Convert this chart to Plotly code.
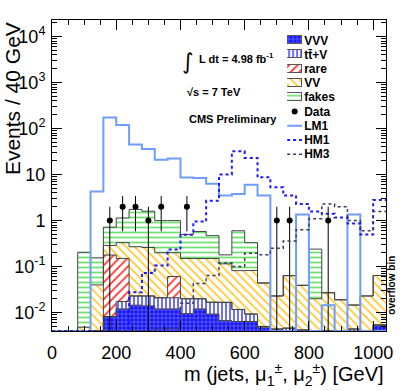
import numpy as np
import plotly.graph_objects as go

# 40 GeV bins from 0 to 1040 (last bin = overflow)
bin_edges = np.arange(0, 1041, 40)
bin_centers = bin_edges[:-1] + 20

# stacked backgrounds, bottom to top
vvv = [0, 0, 0, 0, 0.0082, 0.012, 0.0145, 0.014, 0.012, 0.012, 0.0095, 0.012, 0.0093,
       0.0067, 0.0064, 0.0064, 0.0048, 0.0042, 0, 0, 0, 0, 0, 0, 0.0035, 0.0052]
ttv = [0, 0, 0, 0, 0, 0.0054, 0.0085, 0.009, 0.009, 0.009, 0.0105, 0.008, 0.0075,
       0.010, 0.0053, 0.0029, 0.0002, 0.0002, 0.0046, 0.0042, 0.0035, 0.003, 0.003,
       0.0044, 0, 0.0002]
rare = [0, 0, 0, 0, 0.17, 0.133, 0, 0, 0, 0.04, 0, 0, 0,
        0, 0, 0, 0, 0, 0, 0, 0, 0, 0, 0, 0, 0]
vv = [0, 0, 0.0048, 0.04, 0.11, 0.18, 0.247, 0.237, 0.179, 0.139, 0.13, 0.13, 0.133,
      0.098, 0.07, 0.073, 0.039, 0.0186, 0.059, 0.035, 0.0165, 0.024, 0.016, 0.0102,
      0.0195, 0.0586]
fakes = [0, 0, 0.2, 0.115, 0.43, 0.81, 1.48, 1.34, 0.8, 0.8, 0.35, 0.43, 0.32,
         0.065, 0.52, 0.25, 0, 0, 0, 0, 0.22, 0, 0, 0, 0, 0]

data = [0, 0, 0, 0, 1, 2, 2, 1, 2, 0, 2, 0, 0, 0, 0, 0, 0, 1, 1, 0, 0, 1, 0, 0, 0, 0]

# signal points
lm1 = [0, 0, 0, 4.3, 174, 120, 45, 36, 21, 22.5, 8.6, 8.4, 6.3, 3.5, 3.8, 6.0, 3.5,
       0, 0, 1.35, 0, 0.0145, 0, 1.35, 0, 0]
hm1 = [0, 0, 0, 0, 0, 0, 0.0276, 0.073, 0.105, 0.234, 0.49, 0.95, 2.7, 10, 32, 23,
       8.7, 5.3, 3.5, 2.3, 1.57, 1.4, 1.16, 0.86, 0.5, 2.8]
hm3 = [0, 0, 0, 0, 0, 0, 0, 0, 0.0045, 0.0045, 0.016, 0.043, 0.064, 0.12, 0.1, 0.195,
       0.18, 0.25, 0.36, 0.63, 1.1, 2.3, 2.0, 1.0, 0.6, 1.57]

y_tickvals = [1e-2, 1e-1, 1, 10, 1e2, 1e3, 1e4]
y_ticktext = ["10<sup>-2</sup>", "10<sup>-1</sup>", "1", "10",
              "10<sup>2</sup>", "10<sup>3</sup>", "10<sup>4</sup>"]
x_tickvals = [0, 200, 400, 600, 800, 1000]

legend_names = ["VVV", "tt\u0304+V", "rare", "VV", "fakes", "Data", "LM1", "HM1", "HM3"]

FONT = "Liberation Sans, Arial, Helvetica, sans-serif"
LOG_MIN, LOG_MAX = -2.4, 4.36
floor = 10 ** LOG_MIN


def step(vals):
    v = np.maximum(np.asarray(vals, dtype=float), floor)
    return np.append(v, v[-1])


fig = go.Figure()

patterns = {
    "VVV": dict(shape="+", bgcolor="#1414f5", fgcolor="#7a7aff", size=4, solidity=0.3),
    "tt\u0304+V": dict(shape="|", bgcolor="white", fgcolor="#3030ff", size=4, solidity=0.35),
    "rare": dict(shape="/", bgcolor="white", fgcolor="#ff3030", size=6, solidity=0.3),
    "VV": dict(shape="\\", bgcolor="white", fgcolor="#ffc830", size=6, solidity=0.3),
    "fakes": dict(shape="-", bgcolor="white", fgcolor="#70e070", size=5, solidity=0.35),
}
backgrounds = [("VVV", vvv), ("tt\u0304+V", ttv), ("rare", rare), ("VV", vv), ("fakes", fakes)]

for name, vals in backgrounds:
    pat = patterns[name]
    fig.add_trace(go.Bar(
        x=bin_centers, y=vals, width=40, name=name, showlegend=False,
        marker=dict(color=pat["bgcolor"], line=dict(width=0),
                    pattern=dict(fillmode="replace", **pat)),
        hoverinfo="skip",
    ))

# stack outlines (step style)
cum = np.zeros(len(bin_centers))
for name, vals in backgrounds:
    cum = cum + np.asarray(vals)
    fig.add_trace(go.Scatter(
        x=bin_edges, y=step(cum), mode="lines", line_shape="hv",
        line=dict(color="#444444", width=1), showlegend=False, hoverinfo="skip",
    ))

# data with sqrt(N) errors
data_arr = np.asarray(data, dtype=float)
has = data_arr > 0
err = np.sqrt(data_arr[has])
err_lo = np.minimum(err, data_arr[has] * 0.9999)
fig.add_trace(go.Scatter(
    x=bin_centers[has], y=data_arr[has], mode="markers", name="Data", showlegend=False,
    marker=dict(color="black", size=6),
    error_y=dict(type="data", symmetric=False, array=err, arrayminus=err_lo,
                 color="black", thickness=1, width=0),
))

line_styles = {
    "LM1": dict(color="#6f9cff", width=2),
    "HM1": dict(color="#1a1aff", width=2, dash="dot"),
    "HM3": dict(color="#3a3a5a", width=1.5, dash="dot"),
}
signals = [("LM1", lm1), ("HM1", hm1), ("HM3", hm3)]
for name, vals in signals:
    fig.add_trace(go.Scatter(
        x=bin_edges, y=step(vals), mode="lines", line_shape="hv",
        name=name, line=line_styles[name], showlegend=False,
    ))

# legend drawn on a small categorical subplot
for name in legend_names:
    if name in patterns:
        pat = patterns[name]
        fig.add_trace(go.Bar(
            x=[1], y=[name], orientation="h", width=0.55, xaxis="x2", yaxis="y2",
            marker=dict(color=pat["bgcolor"], line=dict(width=1, color="#555555"),
                        pattern=dict(fillmode="replace", **pat)),
            showlegend=False, hoverinfo="skip",
        ))
    elif name == "Data":
        fig.add_trace(go.Scatter(
            x=[0.5], y=[name], mode="markers", xaxis="x2", yaxis="y2",
            marker=dict(color="black", size=6), showlegend=False, hoverinfo="skip",
        ))
    else:
        fig.add_trace(go.Scatter(
            x=[0, 1], y=[name, name], mode="lines", xaxis="x2", yaxis="y2",
            line=line_styles[name], showlegend=False, hoverinfo="skip",
        ))

annos = [
    dict(x=0.406, y=0.867, text="\u222b", size=22, family="DejaVu Sans", xanchor="center"),
    dict(x=0.434, y=0.877, text="<b>L dt = 4.98 fb<sup>-1</sup></b>", size=11, xanchor="left"),
    dict(x=0.398, y=0.768, text="<b>\u221as = 7 TeV</b>", size=11, xanchor="left"),
    dict(x=0.404, y=0.683, text="<b>CMS Preliminary</b>", size=11, xanchor="left"),
    dict(x=-0.118, y=1.0, text="Events / 40 GeV", textangle=-90, size=21,
         xanchor="center", yanchor="top"),
    dict(x=1.0, y=-0.14, text="m (jets, \u03bc<sub>1</sub><sup>\u00b1</sup>, "
         "\u03bc<sub>2</sub><sup>\u00b1</sup>) [GeV]", size=20, xanchor="right"),
    dict(x=1.016, y=0.147, text="<b>overflow bin</b>", textangle=-90, size=10,
         xanchor="center"),
]
for a in annos:
    fig.add_annotation(
        xref="paper", yref="paper", showarrow=False, x=a["x"], y=a["y"], text=a["text"],
        textangle=a.get("textangle", 0), xanchor=a.get("xanchor", "center"),
        yanchor=a.get("yanchor", "middle"),
        font=dict(family=a.get("family", FONT), size=a["size"], color="black"),
    )

fig.update_layout(
    width=407, height=391,
    margin=dict(l=52, r=21, t=20, b=60),
    paper_bgcolor="white", plot_bgcolor="white",
    font=dict(family=FONT, color="black"),
    barmode="stack", bargap=0,
    showlegend=False,
    xaxis=dict(
        range=[0, 1040], showline=True, linecolor="black", linewidth=1, mirror="allticks",
        ticks="inside", ticklen=10, tickcolor="black",
        tickvals=x_tickvals, tickfont=dict(size=18),
        minor=dict(ticks="inside", ticklen=5, dtick=50, tick0=0, tickcolor="black"),
        showgrid=False, zeroline=False, ticklabelstandoff=5, automargin=False,
    ),
    yaxis=dict(
        type="log", range=[LOG_MIN, LOG_MAX], showline=True, linecolor="black",
        linewidth=1, mirror="allticks", ticks="inside", ticklen=10, tickcolor="black",
        tickvals=y_tickvals, ticktext=y_ticktext, tickfont=dict(size=18),
        minor=dict(ticks="inside", ticklen=5, dtick="D1", tickcolor="black"),
        showgrid=False, zeroline=False, ticklabelstandoff=2, automargin=False,
    ),
    xaxis2=dict(domain=[0.704, 0.749], range=[0, 1], visible=False, anchor="y2",
                fixedrange=True),
    yaxis2=dict(domain=[0.5453, 0.9576], anchor="x2", side="right", type="category",
                categoryorder="array", categoryarray=legend_names[::-1],
                range=[-0.5, len(legend_names) - 0.5], showgrid=False, showline=False,
                zeroline=False, ticks="", automargin=False, ticklabelstandoff=1,
                tickfont=dict(family=FONT, size=12, weight=700, color="black"),
                fixedrange=True),
)

# drop the default 8px page margin so the figure fills the window exactly
fig.write_html("out.html", config={"displayModeBar": False},
               post_script="document.body.style.margin = '0';")
